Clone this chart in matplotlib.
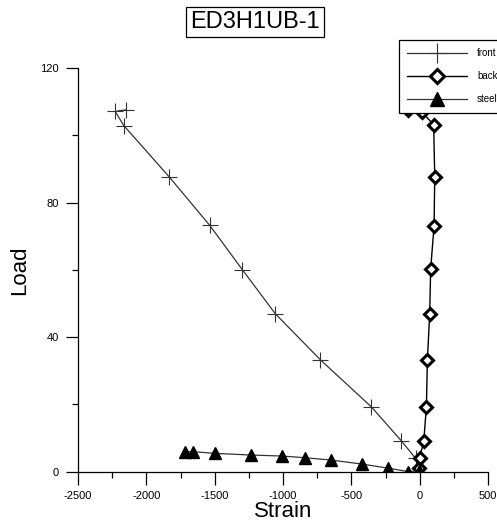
import matplotlib
matplotlib.use("Agg")
import matplotlib.pyplot as plt
from matplotlib.ticker import MultipleLocator

plt.rcParams['font.family'] = ['Liberation Sans', 'DejaVu Sans']
plt.rcParams['axes.unicode_minus'] = False

# strain / load readings per gauge
front_strain = [0, -30, -134, -353, -726, -1056, -1297, -1536, -1832, -2165, -2228, -2146]
front_load = [0, 3.9, 9.1, 19.2, 33.2, 46.9, 60.0, 73.2, 87.6, 102.9, 107.1, 107.6]

back_strain = [-7, 0, 30, 49, 56, 73, 80, 105, 110, 102, 18, -88]
back_load = [1.0, 3.9, 9.2, 19.3, 33.2, 46.8, 60.2, 73.1, 87.6, 103.2, 106.8, 107.4]

steel_strain = [0, -7, -88, -231, -421, -646, -841, -1007, -1234, -1500, -1658, -1720]
steel_load = [0, 0.2, 0.0, 1.0, 2.2, 3.4, 4.1, 4.6, 4.9, 5.4, 5.9, 5.9]

fig = plt.figure(figsize=(4.97, 5.28), dpi=100)
ax = fig.add_axes([0.157, 0.107, 0.825, 0.764])

ax.plot(front_strain, front_load, color='#333333', lw=0.9, marker='+', ms=11, mew=0.8,
        label='front')
ax.plot(back_strain, back_load, color='black', lw=1.0, marker='D', ms=5.8, mew=2.2,
        mfc='white', mec='black', label='back')
ax.plot(steel_strain, steel_load, color='#333333', lw=0.9, marker='^', ms=8.5,
        mfc='black', mec='black', label='steel')

ax.set_xlim(-2500, 500)
ax.set_ylim(0, 120)
ax.xaxis.set_major_locator(MultipleLocator(500))
ax.xaxis.set_minor_locator(MultipleLocator(250))
ax.yaxis.set_major_locator(MultipleLocator(40))
ax.yaxis.set_minor_locator(MultipleLocator(20))
ax.tick_params(which='major', direction='out', length=9, width=0.9, labelsize=8, pad=5)
ax.tick_params(which='minor', direction='out', length=4.5, width=0.9)
ax.spines['top'].set_visible(False)
ax.spines['right'].set_visible(False)
for s in ['left', 'bottom']:
    ax.spines[s].set_linewidth(0.9)

ax.set_xlabel('Strain', fontsize=16, labelpad=0)
ax.set_ylabel('Load', fontsize=16, labelpad=7)

fig.text(0.513, 0.958, 'ED3H1UB-1', fontsize=17, ha='center', va='center',
         bbox=dict(boxstyle='square,pad=0.18', fc='white', ec='black', lw=0.9))

leg = ax.legend(loc='upper left', bbox_to_anchor=(394 / 497, 1 - 35 / 528),
                bbox_transform=fig.transFigure, fontsize=7, handlelength=6.2,
                labelspacing=1.35, borderpad=0.85, handletextpad=1.0, markerscale=1.25,
                fancybox=False, framealpha=1, edgecolor='black')
leg.get_frame().set_linewidth(0.9)
leg.set_zorder(5)

fig.savefig('out.png', dpi=100)
